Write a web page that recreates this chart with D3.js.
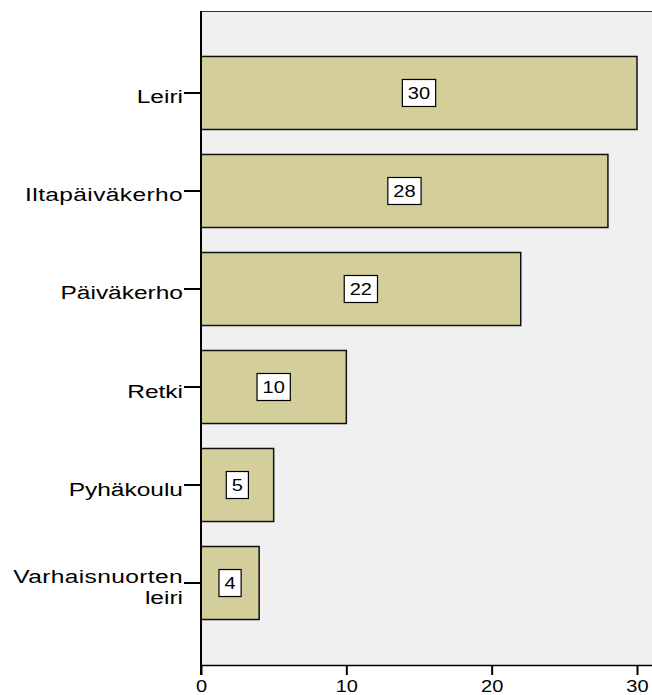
<!DOCTYPE html>
<html><head><meta charset="utf-8">
<script src="https://cdn.jsdelivr.net/npm/d3@7"></script>
<style>body{margin:0;background:#fff}svg{display:block}</style>
</head><body>
<svg id="c" width="652" height="695"></svg>
<script>
const categories = ["Leiri", "Iltapäiväkerho", "Päiväkerho", "Retki", "Pyhäkoulu", "Varhaisnuorten leiri"];
const categoryLines = [["Leiri"], ["Iltapäiväkerho"], ["Päiväkerho"], ["Retki"], ["Pyhäkoulu"], ["Varhaisnuorten", "leiri"]];
const values = [30, 28, 22, 10, 5, 4];
const xTicks = [0, 10, 20, 30];

(function () {
const W = 652, H = 695;
const pLeft = 201, pTop = 11, pBottom = 665;
const svg = d3.select("#c");
const font = "'Liberation Sans', Arial, sans-serif";
const SX = 1.25; // horizontal glyph stretch of reference

const x = d3.scaleLinear().domain([0, 30]).range([pLeft, 637]);
const y = d3.scaleBand().domain(categories).range([pTop, pBottom]).paddingInner(0.255).paddingOuter(0.464);

// plot background
svg.append("rect").attr("x", pLeft).attr("y", pTop).attr("width", W - pLeft).attr("height", pBottom - pTop).attr("fill", "#f0f0f0");
svg.append("line").attr("x1", pLeft).attr("x2", W).attr("y1", pTop + 0.5).attr("y2", pTop + 0.5).attr("stroke", "#333").attr("stroke-width", 1.2);

// bars
svg.selectAll("rect.bar").data(categories).join("rect").attr("class", "bar")
  .attr("x", x(0)).attr("y", d => y(d))
  .attr("width", (d, i) => x(values[i]) - x(0)).attr("height", y.bandwidth())
  .attr("fill", "#d3ce9a").attr("stroke", "#111").attr("stroke-width", 1.5);

// value labels
categories.forEach((c, i) => {
  const cx = (x(0) + x(values[i])) / 2, cy = y(c) + y.bandwidth() / 2;
  const g = svg.append("g");
  const t = g.append("text").attr("transform", `translate(${cx},${cy + 6}) scale(${SX},1)`)
    .attr("text-anchor", "middle").attr("font-family", font).attr("font-size", 16).attr("fill", "#000").text(values[i]);
  const w = t.node().getComputedTextLength() * SX + 11;
  g.insert("rect", "text").attr("x", cx - w / 2).attr("y", cy - 13.5).attr("width", w).attr("height", 27)
    .attr("fill", "#fff").attr("stroke", "#000").attr("stroke-width", 1.2);
});

// x axis
const xa = svg.append("g").attr("transform", `translate(0,${pBottom})`)
  .call(d3.axisBottom(x).tickValues(xTicks).tickSize(10).tickSizeOuter(0).tickPadding(6));
xa.select(".domain").attr("d", `M${pLeft},0.5H${W}`).attr("stroke", "#000").attr("stroke-width", 1.5);
xa.selectAll(".tick line").attr("stroke", "#000").attr("stroke-width", 2);
xa.selectAll(".tick text").attr("font-family", font).attr("font-size", 16).attr("fill", "#000")
  .attr("transform", `scale(${SX},1)`);

// y axis
svg.append("line").attr("x1", pLeft).attr("x2", pLeft).attr("y1", pTop).attr("y2", pBottom + 10).attr("stroke", "#000").attr("stroke-width", 2);
categories.forEach((c, i) => {
  const cy = y(c) + y.bandwidth() / 2;
  svg.append("line").attr("x1", pLeft - 17).attr("x2", pLeft).attr("y1", cy).attr("y2", cy).attr("stroke", "#000").attr("stroke-width", 2);
  const lines = categoryLines[i];
  lines.forEach((ln, j) => {
    const by = cy + 10.5 + (j - (lines.length - 1) / 2) * 21;
    svg.append("text").attr("transform", `translate(${pLeft - 18},${by}) scale(${SX + 0.04},1)`)
      .attr("text-anchor", "end").attr("font-family", font).attr("font-size", 19)
      .attr("letter-spacing", ln.length > 10 ? 0.3 : 0).attr("fill", "#000").text(ln);
  });
});
})();
</script>
</body></html>
